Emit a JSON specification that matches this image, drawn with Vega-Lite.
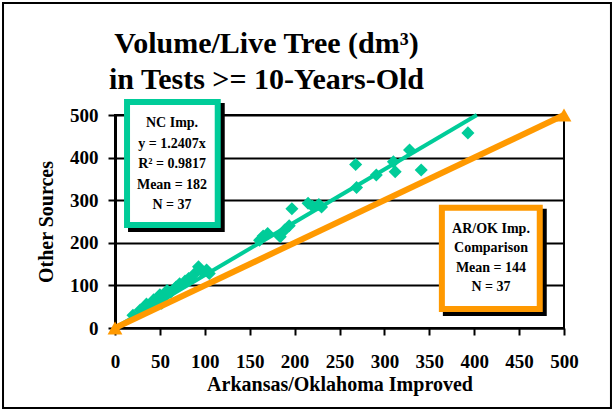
{
  "$schema": "https://vega.github.io/schema/vega-lite/v6.json",
  "width": 449,
  "height": 213,
  "autosize": {"type": "none"},
  "padding": {"left": 115, "top": 115, "right": 52, "bottom": 84},
  "background": "white",
  "title": {
    "text": ["Volume/Live Tree (dm³)", "in Tests >= 10-Years-Old"],
    "font": "Liberation Serif",
    "fontSize": 30,
    "fontWeight": "bold",
    "color": "black",
    "anchor": "middle",
    "frame": "group",
    "dx": -73,
    "dy": 97,
    "lineHeight": 36
  },
  "config": {
    "view": {"stroke": "black", "strokeWidth": 2},
    "font": "Liberation Serif",
    "title": {"font": "Liberation Serif"}
  },
  "datasets": {
    "nc": [
      {"ar": 20, "other": 30}, {"ar": 28, "other": 42}, {"ar": 35, "other": 56},
      {"ar": 43, "other": 66}, {"ar": 50, "other": 78}, {"ar": 52, "other": 58},
      {"ar": 55, "other": 72}, {"ar": 58, "other": 88}, {"ar": 62, "other": 84},
      {"ar": 68, "other": 96}, {"ar": 72, "other": 104}, {"ar": 78, "other": 110},
      {"ar": 82, "other": 116}, {"ar": 88, "other": 126}, {"ar": 93, "other": 144},
      {"ar": 97, "other": 132}, {"ar": 102, "other": 136}, {"ar": 105, "other": 128},
      {"ar": 161, "other": 206}, {"ar": 165, "other": 216}, {"ar": 170, "other": 222},
      {"ar": 184, "other": 214}, {"ar": 189, "other": 230}, {"ar": 194, "other": 240},
      {"ar": 197, "other": 280}, {"ar": 215, "other": 293}, {"ar": 220, "other": 286},
      {"ar": 227, "other": 290}, {"ar": 230, "other": 284}, {"ar": 268, "other": 384},
      {"ar": 269, "other": 330}, {"ar": 291, "other": 359}, {"ar": 310, "other": 390},
      {"ar": 312, "other": 367}, {"ar": 328, "other": 418}, {"ar": 341, "other": 371},
      {"ar": 393, "other": 458}
    ],
    "trend": [{"ar": 0, "other": 0}, {"ar": 403, "other": 500}],
    "arok": [{"ar": 0, "other": 0}, {"ar": 500, "other": 500}]
  },
  "layer": [
    {
      "data": {"values": [{"k": 1}]},
      "mark": {"type": "rect", "fill": "white", "fillOpacity": 0, "stroke": "black", "strokeWidth": 2},
      "encoding": {
        "x": {"datum": -124.7, "type": "quantitative"},
        "x2": {"datum": 552.3},
        "y": {"datum": 762.9, "type": "quantitative"},
        "y2": {"datum": -187.8}
      }
    },
    {
      "data": {"name": "nc"},
      "mark": {"type": "point", "shape": "diamond", "filled": true, "color": "#00CC99", "size": 170, "opacity": 1},
      "encoding": {
        "x": {
          "field": "ar",
          "type": "quantitative",
          "title": "Arkansas/Oklahoma Improved",
          "scale": {"domain": [0, 500], "nice": false},
          "axis": {
            "values": [0, 50, 100, 150, 200, 250, 300, 350, 400, 450, 500],
            "grid": false,
            "domainColor": "black", "domainWidth": 2,
            "tickColor": "black", "tickWidth": 2, "tickSize": 7,
            "labelFont": "Liberation Serif", "labelFontSize": 19, "labelFontWeight": "bold",
            "labelColor": "black", "labelPadding": 17, "labelFlush": false, "labelOverlap": false,
            "titleFont": "Liberation Serif", "titleFontSize": 20, "titleFontWeight": "bold",
            "titleColor": "black", "titlePadding": 3
          }
        },
        "y": {
          "field": "other",
          "type": "quantitative",
          "title": "Other Sources",
          "scale": {"domain": [0, 500], "nice": false},
          "axis": {
            "values": [0, 100, 200, 300, 400, 500],
            "grid": true, "gridColor": "black", "gridWidth": 2, "gridOpacity": 1,
            "domainColor": "black", "domainWidth": 3,
            "tickColor": "black", "tickWidth": 2, "tickSize": 7,
            "labelFont": "Liberation Serif", "labelFontSize": 19, "labelFontWeight": "bold",
            "labelColor": "black", "labelPadding": 10, "labelFlush": false, "labelOverlap": false,
            "titleFont": "Liberation Serif", "titleFontSize": 20, "titleFontWeight": "bold",
            "titleColor": "black", "titlePadding": 13
          }
        }
      }
    },
    {
      "data": {"name": "trend"},
      "mark": {"type": "line", "color": "#00CC99", "strokeWidth": 4},
      "encoding": {
        "x": {"field": "ar", "type": "quantitative"},
        "y": {"field": "other", "type": "quantitative"}
      }
    },
    {
      "data": {"name": "arok"},
      "mark": {"type": "line", "color": "#FF9900", "strokeWidth": 6},
      "encoding": {
        "x": {"field": "ar", "type": "quantitative"},
        "y": {"field": "other", "type": "quantitative"}
      }
    },
    {
      "data": {"name": "arok"},
      "mark": {"type": "point", "shape": "triangle-up", "filled": true, "color": "#FF9900", "size": 220, "opacity": 1},
      "encoding": {
        "x": {"field": "ar", "type": "quantitative"},
        "y": {"field": "other", "type": "quantitative"}
      }
    },
    {
      "data": {"values": [{"k": 1}]},
      "mark": {"type": "rect", "fill": "black", "stroke": "black", "strokeWidth": 6, "xOffset": 4, "x2Offset": 4, "yOffset": 4, "y2Offset": 4},
      "encoding": {
        "x": {"datum": 13.4, "type": "quantitative"},
        "x2": {"datum": 114.4},
        "y": {"datum": 530.5, "type": "quantitative"},
        "y2": {"datum": 241.8}
      }
    },
    {
      "data": {"values": [{"k": 1}]},
      "mark": {"type": "rect", "fill": "white", "stroke": "#00CC99", "strokeWidth": 6},
      "encoding": {
        "x": {"datum": 13.4, "type": "quantitative"},
        "x2": {"datum": 114.4},
        "y": {"datum": 530.5, "type": "quantitative"},
        "y2": {"datum": 241.8}
      }
    },
    {
      "data": {"values": [{"k": 1}]},
      "mark": {
        "type": "text",
        "text": ["NC Imp.", "y = 1.2407x", "R² = 0.9817", "Mean = 182", "N = 37"],
        "font": "Liberation Serif", "fontSize": 14, "fontWeight": "bold", "color": "black",
        "align": "center", "baseline": "alphabetic", "lineHeight": 20.5
      },
      "encoding": {
        "x": {"datum": 63.5, "type": "quantitative"},
        "y": {"datum": 471.8, "type": "quantitative"}
      }
    },
    {
      "data": {"values": [{"k": 1}]},
      "mark": {"type": "rect", "fill": "black", "stroke": "black", "strokeWidth": 6, "xOffset": 4, "x2Offset": 4, "yOffset": 4, "y2Offset": 4},
      "encoding": {
        "x": {"datum": 364, "type": "quantitative"},
        "x2": {"datum": 473},
        "y": {"datum": 282, "type": "quantitative"},
        "y2": {"datum": 44.6}
      }
    },
    {
      "data": {"values": [{"k": 1}]},
      "mark": {"type": "rect", "fill": "white", "stroke": "#FF9900", "strokeWidth": 6},
      "encoding": {
        "x": {"datum": 364, "type": "quantitative"},
        "x2": {"datum": 473},
        "y": {"datum": 282, "type": "quantitative"},
        "y2": {"datum": 44.6}
      }
    },
    {
      "data": {"values": [{"k": 1}]},
      "mark": {
        "type": "text",
        "text": ["AR/OK Imp.", "Comparison", "Mean = 144", "N = 37"],
        "font": "Liberation Serif", "fontSize": 14, "fontWeight": "bold", "color": "black",
        "align": "center", "baseline": "alphabetic", "lineHeight": 19.5
      },
      "encoding": {
        "x": {"datum": 418.7, "type": "quantitative"},
        "y": {"datum": 223.7, "type": "quantitative"}
      }
    }
  ]
}
